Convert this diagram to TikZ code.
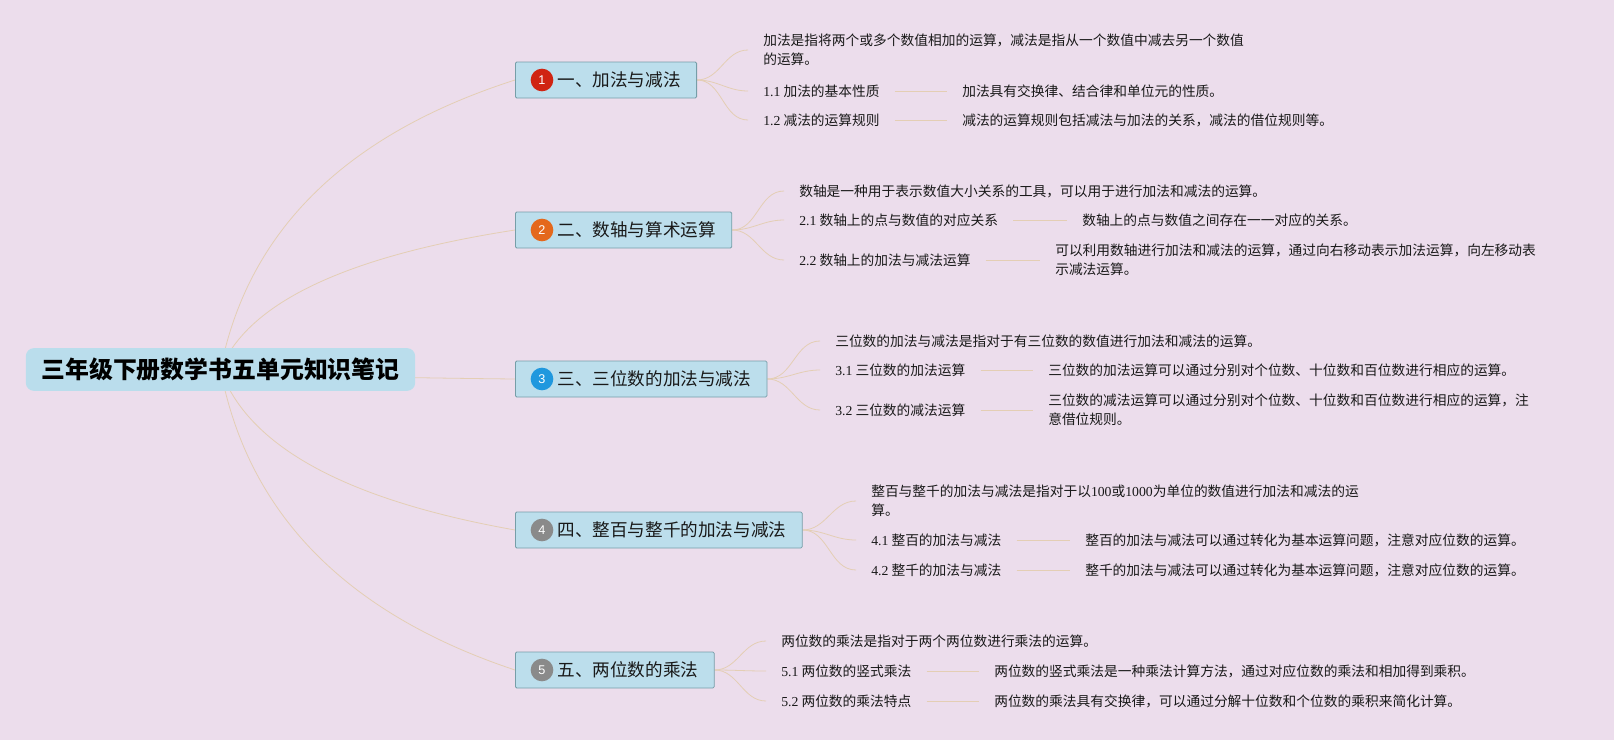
\documentclass[tikz,border=0pt]{standalone}
\usepackage{fontspec}
\setmainfont{Noto Sans CJK SC}
\newfontfamily\latinfont{Liberation Serif}
\newfontfamily\iconfont{Liberation Sans}
\usetikzlibrary{calc,backgrounds}
\definecolor{bgcol}{RGB}{236,221,236}
\definecolor{rootcol}{RGB}{186,221,236}
\definecolor{branchcol}{RGB}{188,222,236}
\definecolor{branchline}{RGB}{118,158,168}
\definecolor{edgecol}{RGB}{228,206,180}
\definecolor{textcol}{RGB}{25,25,25}
\definecolor{iconred}{RGB}{208,36,18}
\definecolor{iconorange}{RGB}{228,104,28}
\definecolor{iconblue}{RGB}{32,152,222}
\definecolor{icongray}{RGB}{138,138,138}
\pgfdeclarelayer{edges}
\pgfsetlayers{background,edges,main}
\tikzset{
  root topic/.style={rounded corners=6pt,fill=rootcol,minimum width=292pt,minimum height=32pt,inner sep=0pt,font=\fontsize{17.9}{20}\selectfont\bfseries,text=black},
  main topic/.style={anchor=west,draw=branchline,line width=0.6pt,fill=branchcol,rounded corners=1pt,minimum height=27pt,inner xsep=12pt,inner ysep=0pt,font=\fontsize{13.2}{15}\selectfont,text=textcol},
  topic icon/.style={circle,minimum size=17pt,inner sep=0pt,font=\iconfont\fontsize{9.5}{10}\selectfont,text=white},
  sub topic/.style={anchor=west,inner xsep=11.25pt,inner ysep=2pt,align=left,font=\fontsize{10.3}{14.3}\selectfont,text=textcol},
  rootedge/.style={draw=edgecol,line width=0.6pt},
  subedge/.style={draw=edgecol,line width=0.6pt}
}
\begin{document}
\begin{tikzpicture}[x=0.75pt,y=0.75pt]
\useasboundingbox (0,0) rectangle (1614,-740);
\begin{pgfonlayer}{background}
  \fill[bgcol] (0,0) rectangle (1614,-740);
\end{pgfonlayer}
% ---- root and main topics ----
\node[root topic] (root) at (220.5,-369.5) {三年级下册数学书五单元知识笔记};
\foreach \i/\y/\col/\txt in {1/80/iconred/一、加法与减法,2/230/iconorange/二、数轴与算术运算,3/379/iconblue/三、三位数的加法与减法,4/530/icongray/四、整百与整千的加法与减法,5/670/icongray/五、两位数的乘法}{
  \node[main topic] (b\i) at (515,-\y) {\hspace*{19.5pt}\txt};
  \node[topic icon,fill=\col] (i\i) at ([xshift=20.25pt]b\i.west) {\i};}
% ---- one ----
\node[sub topic] (d10) at (748,-50) {加法是指将两个或多个数值相加的运算，减法是指从一个数值中减去另一个数值\\的运算。};
\node[sub topic] (l11) at (748,-91) {{\latinfont 1.1} 加法的基本性质};
\node[sub topic] (d11) at (947,-91) {加法具有交换律、结合律和单位元的性质。};
\node[sub topic] (l12) at (748,-120) {{\latinfont 1.2} 减法的运算规则};
\node[sub topic] (d12) at (947,-120) {减法的运算规则包括减法与加法的关系，减法的借位规则等。};
% ---- two ----
\node[sub topic] (d20) at (784,-191) {数轴是一种用于表示数值大小关系的工具，可以用于进行加法和减法的运算。};
\node[sub topic] (l21) at (784,-220) {{\latinfont 2.1} 数轴上的点与数值的对应关系};
\node[sub topic] (d21) at (1067,-220) {数轴上的点与数值之间存在一一对应的关系。};
\node[sub topic] (l22) at (784,-260) {{\latinfont 2.2} 数轴上的加法与减法运算};
\node[sub topic] (d22) at (1040,-260) {可以利用数轴进行加法和减法的运算，通过向右移动表示加法运算，向左移动表\\示减法运算。};
% ---- three ----
\node[sub topic] (d30) at (820,-341) {三位数的加法与减法是指对于有三位数的数值进行加法和减法的运算。};
\node[sub topic] (l31) at (820,-370) {{\latinfont 3.1} 三位数的加法运算};
\node[sub topic] (d31) at (1033,-370) {三位数的加法运算可以通过分别对个位数、十位数和百位数进行相应的运算。};
\node[sub topic] (l32) at (820,-410) {{\latinfont 3.2} 三位数的减法运算};
\node[sub topic] (d32) at (1033,-410) {三位数的减法运算可以通过分别对个位数、十位数和百位数进行相应的运算，注\\意借位规则。};
% ---- four ----
\node[sub topic] (d40) at (856,-501) {整百与整千的加法与减法是指对于以{\latinfont 100}或{\latinfont 1000}为单位的数值进行加法和减法的运\\算。};
\node[sub topic] (l41) at (856,-540) {{\latinfont 4.1} 整百的加法与减法};
\node[sub topic] (d41) at (1070,-540) {整百的加法与减法可以通过转化为基本运算问题，注意对应位数的运算。};
\node[sub topic] (l42) at (856,-570) {{\latinfont 4.2} 整千的加法与减法};
\node[sub topic] (d42) at (1070,-570) {整千的加法与减法可以通过转化为基本运算问题，注意对应位数的运算。};
% ---- five ----
\node[sub topic] (d50) at (766,-641) {两位数的乘法是指对于两个两位数进行乘法的运算。};
\node[sub topic] (l51) at (766,-671) {{\latinfont 5.1} 两位数的竖式乘法};
\node[sub topic] (d51) at (979,-671) {两位数的竖式乘法是一种乘法计算方法，通过对应位数的乘法和相加得到乘积。};
\node[sub topic] (l52) at (766,-701) {{\latinfont 5.2} 两位数的乘法特点};
\node[sub topic] (d52) at (979,-701) {两位数的乘法具有交换律，可以通过分解十位数和个位数的乘积来简化计算。};
% ---- connectors ----
\begin{pgfonlayer}{edges}
  \foreach \b in {b1,b2,b3,b4,b5}
    \draw[rootedge] let \p1=(root.center), \p2=(\b.west) in
      (\p1) .. controls ({\x1+0.093*(\x2-\x1)},{\y1+0.48*(\y2-\y1)})
        and ({\x1+0.427*(\x2-\x1)},{\y1+0.813*(\y2-\y1)}) .. (\p2);
  \foreach \b/\c in {b1/d10,b1/l11,b1/l12,b2/d20,b2/l21,b2/l22,b3/d30,b3/l31,b3/l32,b4/d40,b4/l41,b4/l42,b5/d50,b5/l51,b5/l52}
    \draw[subedge] (\b.east) to[out=0,in=180] (\c.west);
  \foreach \a/\c in {l11/d11,l12/d12,l21/d21,l22/d22,l31/d31,l32/d32,l41/d41,l42/d42,l51/d51,l52/d52}
    \draw[subedge] (\a.east) -- (\c.west);
\end{pgfonlayer}
\end{tikzpicture}
\end{document}
